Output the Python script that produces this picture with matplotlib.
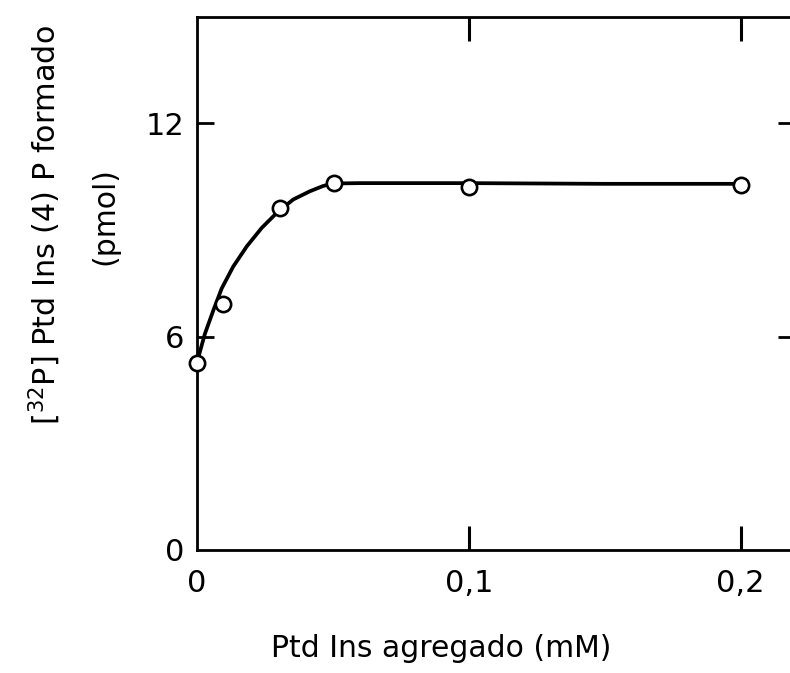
import matplotlib
matplotlib.use("Agg")
import matplotlib.pyplot as plt

# Measured points: Ptd Ins added (mM) vs [32P] Ptd Ins(4)P formed (pmol)
ptdins_mM = [0.0, 0.0097, 0.0305, 0.0504, 0.1, 0.2]
pip_pmol = [5.27, 6.91, 9.61, 10.32, 10.22, 10.28]

# Hand-drawn saturation curve through the points
curve_x = [0.0005, 0.0029, 0.0060, 0.0091, 0.0133, 0.0183, 0.0238, 0.0293,
           0.0354, 0.0415, 0.0464, 0.0501, 0.06, 0.1, 0.15, 0.2]
curve_y = [5.42, 6.08, 6.74, 7.36, 7.97, 8.54, 9.06, 9.48,
           9.86, 10.09, 10.24, 10.31, 10.32, 10.32, 10.3, 10.3]

x_ticks = [0.0, 0.1, 0.2]
x_ticklabels = ["0", "0,1", "0,2"]
y_ticks = [0, 6, 12]
y_ticklabels = ["0", "6", "12"]

fig = plt.figure(figsize=(7.9, 6.73), dpi=100)
ax = fig.add_axes([0.2494, 0.183, 0.757, 0.792])

ax.plot(curve_x, curve_y, color="black", lw=2.7, solid_capstyle="round", zorder=2)
ax.plot(ptdins_mM, pip_pmol, linestyle="none", marker="o", markersize=11,
        markerfacecolor="white", markeredgecolor="black", markeredgewidth=1.9,
        zorder=3, clip_on=False)

ax.set_xlim(0, 0.22)
ax.set_ylim(0, 15)
ax.set_xticks(x_ticks)
ax.set_xticklabels(x_ticklabels)
ax.set_yticks(y_ticks)
ax.set_yticklabels(y_ticklabels)

for s in ax.spines.values():
    s.set_linewidth(2.0)

ax.tick_params(axis="x", direction="in", length=17, width=2.2, pad=14,
               labelsize=22, top=True, bottom=True)
ax.tick_params(axis="y", direction="in", length=12, width=2.0, pad=9,
               labelsize=22, left=True, right=True)

# tick marks at the origin would sit on the spines; hide them
for t in (ax.xaxis.get_major_ticks()[0], ax.yaxis.get_major_ticks()[0]):
    t.tick1line.set_visible(False)
    t.tick2line.set_visible(False)

fig.text(0.558, 0.0238, "Ptd Ins agregado (mM)", ha="center", va="baseline",
         fontsize=21.5)

fig.text(0.057, 0.666, r"[$^{32}$P] Ptd Ins (4) P formado", rotation=90,
         ha="center", va="center", fontsize=21.8)
fig.text(0.133, 0.679, "(pmol)", rotation=90, ha="center", va="center",
         fontsize=21.5)

fig.savefig("out.png", dpi=100)
